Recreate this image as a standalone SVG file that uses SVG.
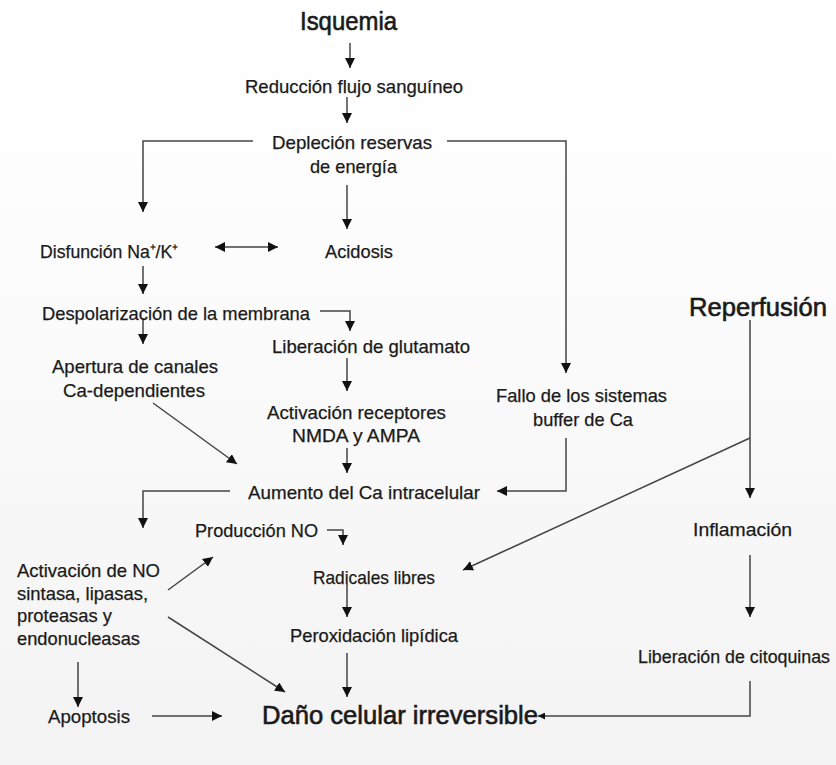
<svg xmlns="http://www.w3.org/2000/svg" width="836" height="765" viewBox="0 0 836 765">
<defs>
<linearGradient id="bg" x1="0" y1="0" x2="0" y2="1">
<stop offset="0" stop-color="#ffffff"/>
<stop offset="0.35" stop-color="#fcfcfc"/>
<stop offset="1" stop-color="#f3f3f3"/>
</linearGradient>
<marker id="ah" viewBox="0 0 10 10" refX="10" refY="5" markerWidth="10" markerHeight="10" markerUnits="userSpaceOnUse" orient="auto-start-reverse">
<path d="M0,0 L10,5 L0,10 z" fill="#111"/>
</marker>
<marker id="ahs" viewBox="0 0 10 10" refX="10" refY="5" markerWidth="7" markerHeight="7" markerUnits="userSpaceOnUse" orient="auto">
<path d="M0,0 L10,5 L0,10 z" fill="#111"/>
</marker>
<style>
text{font-family:"Liberation Sans",Arial,sans-serif;fill:#1a1a1a;font-size:18.5px;stroke:#1a1a1a;stroke-width:0.25}
.big{font-size:25px;stroke-width:0.6}
.sm{font-size:17.5px}
#connectors path{fill:none;stroke:#444;stroke-width:1.5}
.a{marker-end:url(#ah)}
</style>
</defs>
<rect x="0" y="0" width="836" height="765" fill="url(#bg)"/>
<g id="connectors">
<path class="a" d="M350 43 V68"/>
<path class="a" d="M347 97 V123"/>
<path class="a" d="M253 141 H143 V212"/>
<path class="a" d="M447 141 H566 V373"/>
<path class="a" d="M347 185 V229"/>
<path class="a" style="marker-start:url(#ah)" d="M215 247 H278"/>
<path class="a" d="M143 266 V294"/>
<path class="a" d="M320 311 H350 V331"/>
<path class="a" d="M143 318 V344"/>
<path class="a" d="M347 358 V391"/>
<path class="a" d="M347 448 V473"/>
<path class="a" d="M153 403 L237 464"/>
<path class="a" d="M566 438 V491 H497"/>
<path class="a" d="M230 491 H143 V528"/>
<path class="a" d="M750 320 V498"/>
<path class="a" d="M750 438 L463 570"/>
<path class="a" d="M327 530 H343 V545"/>
<path class="a" d="M168 590 L213 557"/>
<path class="a" d="M347 584 V617"/>
<path class="a" d="M168 617 L285 692"/>
<path class="a" d="M347 653 V697"/>
<path class="a" d="M750 555 V617"/>
<path class="a" d="M78 662 V707"/>
<path class="a" d="M152 716 H222"/>
<path style="marker-end:url(#ahs)" d="M750 681 V716 H538"/>
</g>
<g id="isquemia"><text class="big" x="300" y="30" textLength="97" lengthAdjust="spacingAndGlyphs">Isquemia</text></g>
<g id="reduccion"><text x="245" y="93" textLength="218" lengthAdjust="spacingAndGlyphs">Reducción flujo sanguíneo</text></g>
<g id="deplecion"><text x="272" y="149" textLength="160" lengthAdjust="spacingAndGlyphs">Depleción reservas</text><text x="310" y="173" textLength="87" lengthAdjust="spacingAndGlyphs">de energía</text></g>
<g id="disfuncion"><text x="40" y="258" textLength="138" lengthAdjust="spacingAndGlyphs">Disfunción Na⁺/K⁺</text></g>
<g id="acidosis"><text x="325" y="258" textLength="68" lengthAdjust="spacingAndGlyphs">Acidosis</text></g>
<g id="despolarizacion"><text x="42" y="320" textLength="268" lengthAdjust="spacingAndGlyphs">Despolarización de la membrana</text></g>
<g id="liberacion-glutamato"><text x="272" y="353" textLength="198" lengthAdjust="spacingAndGlyphs">Liberación de glutamato</text></g>
<g id="apertura"><text x="52" y="373" textLength="166" lengthAdjust="spacingAndGlyphs">Apertura de canales</text><text x="63" y="397" textLength="142" lengthAdjust="spacingAndGlyphs">Ca-dependientes</text></g>
<g id="activacion-receptores"><text x="267" y="419" textLength="179" lengthAdjust="spacingAndGlyphs">Activación receptores</text><text x="292" y="442" textLength="128" lengthAdjust="spacingAndGlyphs">NMDA y AMPA</text></g>
<g id="fallo"><text x="496" y="402" textLength="171" lengthAdjust="spacingAndGlyphs">Fallo de los sistemas</text><text x="533" y="426" textLength="100" lengthAdjust="spacingAndGlyphs">buffer de Ca</text></g>
<g id="reperfusion"><text class="big" x="689" y="316" textLength="138" lengthAdjust="spacingAndGlyphs">Reperfusión</text></g>
<g id="aumento-ca"><text x="248" y="499" textLength="232" lengthAdjust="spacingAndGlyphs">Aumento  del Ca intracelular</text></g>
<g id="produccion-no"><text x="195" y="537" textLength="123" lengthAdjust="spacingAndGlyphs">Producción NO</text></g>
<g id="activacion-no"><text x="17" y="577" textLength="143" lengthAdjust="spacingAndGlyphs">Activación de NO</text><text x="17" y="600" textLength="131" lengthAdjust="spacingAndGlyphs">sintasa, lipasas,</text><text x="17" y="622" textLength="95" lengthAdjust="spacingAndGlyphs">proteasas y</text><text x="17" y="645" textLength="123" lengthAdjust="spacingAndGlyphs">endonucleasas</text></g>
<g id="radicales"><text x="313" y="584" textLength="122" lengthAdjust="spacingAndGlyphs">Radicales libres</text></g>
<g id="inflamacion"><text x="693" y="536" textLength="99" lengthAdjust="spacingAndGlyphs">Inflamación</text></g>
<g id="peroxidacion"><text x="290" y="642" textLength="168" lengthAdjust="spacingAndGlyphs">Peroxidación lipídica</text></g>
<g id="citoquinas"><text class="sm" x="638" y="663" textLength="192" lengthAdjust="spacingAndGlyphs">Liberación de citoquinas</text></g>
<g id="apoptosis"><text x="48" y="723" textLength="82" lengthAdjust="spacingAndGlyphs">Apoptosis</text></g>
<g id="dano"><text class="big" x="262" y="724" textLength="276" lengthAdjust="spacingAndGlyphs">Daño celular irreversible</text></g>
</svg>
